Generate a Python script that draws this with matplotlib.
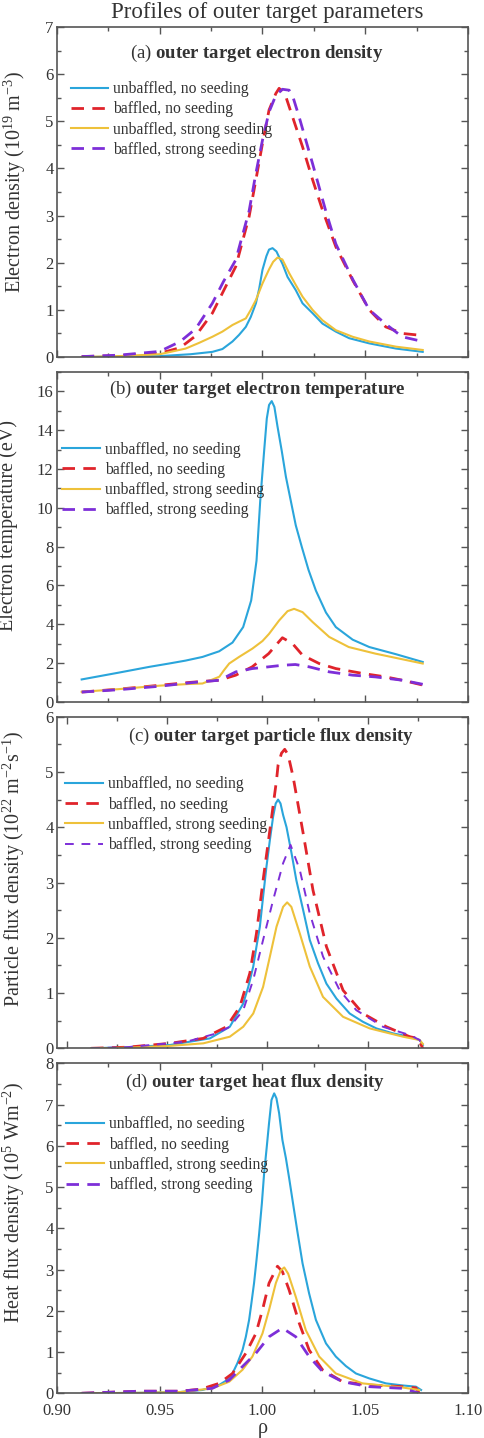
import numpy as np
import matplotlib
matplotlib.use("Agg")
import matplotlib.pyplot as plt
from matplotlib.ticker import MultipleLocator

plt.rcParams['font.family'] = ['Liberation Serif', 'DejaVu Serif']
plt.rcParams['mathtext.fontset'] = 'custom'
plt.rcParams['mathtext.rm'] = 'Liberation Serif'
plt.rcParams['mathtext.bf'] = 'Liberation Serif:bold'
plt.rcParams['mathtext.it'] = 'Liberation Serif:italic'

labels = ["unbaffled, no seeding", "baffled, no seeding",
          "unbaffled, strong seeding", "baffled, strong seeding"]

# ---- (a) electron density, 1e19 m^-3
a_blue_x = [0.912, 0.930, 0.950, 0.965, 0.9756, 0.9805, 0.9854, 0.9886, 0.9919, 0.9943, 0.9968, 0.9984,
            1.000, 1.0019, 1.0032, 1.0049, 1.0068, 1.0081, 1.0097, 1.0122, 1.0162, 1.0195, 1.0244, 1.0292,
            1.0357, 1.0422, 1.052, 1.065, 1.078]
a_blue_y = [0.0, 0.01, 0.02, 0.06, 0.11, 0.17, 0.33, 0.47, 0.64, 0.85, 1.14, 1.45,
            1.85, 2.14, 2.28, 2.31, 2.24, 2.12, 1.98, 1.70, 1.42, 1.14, 0.93, 0.71,
            0.54, 0.40, 0.29, 0.18, 0.11]
a_red_x = [0.912, 0.930, 0.950, 0.960, 0.9675, 0.9756, 0.981, 0.987, 0.9935, 0.9968, 1.000, 1.0032, 1.0065,
           1.0081, 1.0097, 1.0114, 1.0146, 1.0195, 1.0244, 1.0292, 1.0357, 1.0439, 1.052, 1.060, 1.0682,
           1.075]
a_red_y = [0.01, 0.03, 0.08, 0.2, 0.45, 0.93, 1.4, 1.92, 2.98, 3.76, 4.53, 5.24, 5.59,
           5.7, 5.63, 5.52, 5.1, 4.46, 3.76, 3.12, 2.34, 1.63, 1.0, 0.64, 0.5,
           0.47]
a_yel_x = [0.912, 0.930, 0.950, 0.9626, 0.9691, 0.9756, 0.9805, 0.9854, 0.9886, 0.9919, 0.9943, 0.9968,
           1.000, 1.0032, 1.0052, 1.0073, 1.0097, 1.013, 1.0162, 1.0195, 1.0244, 1.0292, 1.0357, 1.0439,
           1.052, 1.065, 1.078]
a_yel_y = [0.0, 0.02, 0.06, 0.18, 0.30, 0.43, 0.54, 0.68, 0.75, 0.82, 1.0, 1.21,
           1.56, 1.86, 2.02, 2.11, 2.07, 1.78, 1.53, 1.28, 1.0, 0.78, 0.57, 0.43,
           0.33, 0.22, 0.15]
a_pur_x = [0.912, 0.930, 0.950, 0.960, 0.9675, 0.9756, 0.981, 0.987, 0.9935, 0.9968, 1.000, 1.0032, 1.0065,
           1.0097, 1.013, 1.0146, 1.0178, 1.0211, 1.0244, 1.0276, 1.0308, 1.0357, 1.0439, 1.052, 1.060,
           1.068, 1.078]
a_pur_y = [0.01, 0.04, 0.12, 0.33, 0.6, 1.14, 1.6, 2.06, 3.1, 3.9, 4.6, 5.2, 5.55,
           5.68, 5.66, 5.55, 5.1, 4.6, 4.1, 3.6, 3.1, 2.4, 1.65, 1.0, 0.7,
           0.43, 0.33]

# ---- (b) electron temperature, eV
b_blue_x = [0.912, 0.930, 0.945, 0.9545, 0.9625, 0.9708, 0.9789, 0.9854, 0.9906, 0.9945, 0.9971, 0.9989,
            1.0008, 1.0021, 1.0032, 1.0045, 1.0058, 1.0073, 1.0094, 1.0114, 1.0138, 1.0162, 1.0192, 1.0224,
            1.026, 1.0309, 1.0357, 1.0439, 1.052, 1.065, 1.078]
b_blue_y = [1.15, 1.5, 1.8, 1.97, 2.12, 2.31, 2.6, 3.05, 3.85, 5.22, 7.27, 10.35,
            12.92, 14.6, 15.3, 15.5, 15.2, 14.2, 12.92, 11.6, 10.35, 9.1, 7.96, 6.8,
            5.73, 4.6, 3.85, 3.2, 2.82, 2.45, 2.05]
b_red_x = [0.912, 0.930, 0.950, 0.965, 0.979, 0.987, 0.995, 1.003, 1.0065, 1.0097, 1.0146, 1.0195,
           1.0276, 1.0357, 1.0487, 1.060, 1.068, 1.078]
b_red_y = [0.5, 0.65, 0.85, 1.0, 1.11, 1.37, 1.8, 2.48, 2.91, 3.3, 3.0, 2.4,
           1.97, 1.71, 1.46, 1.28, 1.11, 0.86]
b_yel_x = [0.912, 0.930, 0.950, 0.965, 0.9708, 0.979, 0.9813, 0.9838, 0.9886, 0.9951, 1.000, 1.0032,
           1.0081, 1.0122, 1.0154, 1.0195, 1.0244, 1.0325, 1.042, 1.055, 1.078]
b_yel_y = [0.51, 0.65, 0.83, 0.92, 0.94, 1.29, 1.63, 1.97, 2.31, 2.74, 3.13, 3.5,
           4.19, 4.67, 4.79, 4.62, 4.11, 3.34, 2.82, 2.48, 1.97]
b_pur_x = [0.912, 0.930, 0.950, 0.965, 0.979, 0.987, 0.995, 1.003, 1.0097, 1.016, 1.0227, 1.0325,
           1.0439, 1.055, 1.068, 1.078]
b_pur_y = [0.5, 0.62, 0.8, 0.98, 1.11, 1.54, 1.71, 1.8, 1.88, 1.92, 1.8, 1.54,
           1.37, 1.28, 1.11, 0.9]

# ---- (c) particle flux density, 1e22 m^-2 s^-1
c_blue_x = [0.912, 0.930, 0.9514, 0.9713, 0.9812, 0.9879, 0.9904, 0.9929, 0.9945, 0.9962, 0.9978, 0.9995,
            1.0012, 1.0028, 1.0041, 1.0053, 1.0065, 1.0078, 1.0095, 1.012, 1.0144, 1.0178, 1.0211, 1.0252,
            1.0294, 1.0344, 1.041, 1.0476, 1.0543, 1.0626, 1.0709, 1.0759, 1.0775]
c_blue_y = [0.0, 0.02, 0.06, 0.18, 0.39, 0.81, 1.11, 1.48, 1.84, 2.2, 2.74, 3.29,
            3.77, 4.19, 4.43, 4.5, 4.43, 4.22, 4.0, 3.53, 3.04, 2.5, 1.96, 1.54,
            1.17, 0.9, 0.63, 0.48, 0.36, 0.27, 0.21, 0.15, 0.06]
c_red_x = [0.912, 0.930, 0.9514, 0.968, 0.9796, 0.9862, 0.9912, 0.9945, 0.9978, 1.0012, 1.0045, 1.0053,
           1.007, 1.0086, 1.0103, 1.0128, 1.0178, 1.0227, 1.0294, 1.0377, 1.0476, 1.0593, 1.0709, 1.075,
           1.0775]
c_red_y = [0.0, 0.02, 0.09, 0.18, 0.39, 0.75, 1.36, 2.08, 3.04, 3.95, 4.85, 5.13,
           5.34, 5.41, 5.31, 4.91, 3.89, 2.86, 1.84, 1.05, 0.63, 0.39, 0.21, 0.18,
           0.0]
c_yel_x = [0.912, 0.930, 0.950, 0.968, 0.9812, 0.9879, 0.9929, 0.9978, 1.0012, 1.0045, 1.0078, 1.0098,
           1.0119, 1.0161, 1.0211, 1.0277, 1.0377, 1.051, 1.0676, 1.0759, 1.0775]
c_yel_y = [0.0, 0.01, 0.04, 0.09, 0.21, 0.39, 0.63, 1.11, 1.66, 2.2, 2.56, 2.64,
           2.56, 2.08, 1.48, 0.93, 0.57, 0.36, 0.21, 0.15, 0.08]
c_pur_x = [0.912, 0.930, 0.9597, 0.9746, 0.9812, 0.9879, 0.9929, 0.9978, 1.0028, 1.0078, 1.0115, 1.0161,
           1.0211, 1.0277, 1.036, 1.0443, 1.0576, 1.0709, 1.0759, 1.0775]
c_pur_y = [0.0, 0.02, 0.12, 0.27, 0.39, 0.69, 1.24, 1.96, 2.68, 3.35, 3.68, 3.23,
           2.44, 1.66, 1.05, 0.69, 0.39, 0.24, 0.15, 0.0]

# ---- (d) heat flux density, 1e5 W m^-2
d_blue_x = [0.912, 0.940, 0.960, 0.9708, 0.9789, 0.9821, 0.9854, 0.9878, 0.9903, 0.9919, 0.9935, 0.9946,
            0.9959, 0.9971, 0.9984, 0.9997, 1.0008, 1.0021, 1.0032, 1.0044, 1.0057, 1.0068, 1.0081, 1.0097,
            1.0114, 1.013, 1.0146, 1.017, 1.0195, 1.0227, 1.026, 1.0309, 1.0357, 1.0406, 1.0455, 1.052,
            1.0601, 1.0682, 1.0747, 1.0772]
d_blue_y = [0.0, 0.01, 0.03, 0.08, 0.2, 0.3, 0.48, 0.73, 1.05, 1.37, 1.78, 2.18,
            2.67, 3.23, 3.88, 4.6, 5.33, 5.98, 6.55, 7.11, 7.27, 7.15, 6.79, 6.14,
            5.7, 5.21, 4.69, 3.92, 3.15, 2.42, 1.78, 1.21, 0.89, 0.66, 0.48, 0.36,
            0.24, 0.19, 0.16, 0.08]
d_red_x = [0.912, 0.940, 0.960, 0.970, 0.9789, 0.9854, 0.9919, 0.9968, 1.000, 1.0032, 1.0073, 1.0097,
           1.013, 1.0179, 1.0227, 1.0292, 1.039, 1.052, 1.0682, 1.0747, 1.0763]
d_red_y = [0.0, 0.05, 0.05, 0.1, 0.24, 0.48, 0.97, 1.45, 2.02, 2.67, 3.08, 2.95,
           2.5, 1.7, 1.05, 0.57, 0.28, 0.2, 0.16, 0.13, 0.0]
d_yel_x = [0.912, 0.940, 0.960, 0.9756, 0.9838, 0.9903, 0.9951, 1.000, 1.0032, 1.0065, 1.0089, 1.0106,
           1.0125, 1.0162, 1.0211, 1.0276, 1.0357, 1.0487, 1.0682, 1.0763]
d_yel_y = [0.0, 0.01, 0.03, 0.12, 0.28, 0.57, 0.89, 1.45, 2.02, 2.67, 2.98, 3.05,
           2.9, 2.34, 1.53, 0.89, 0.48, 0.24, 0.14, 0.08]
d_pur_x = [0.912, 0.940, 0.960, 0.9756, 0.9838, 0.9903, 0.9968, 1.0032, 1.0097, 1.0162, 1.0227, 1.0292,
           1.039, 1.052, 1.0682, 1.0763]
d_pur_y = [0.0, 0.05, 0.05, 0.12, 0.32, 0.65, 0.97, 1.37, 1.58, 1.37, 0.89, 0.53,
           0.28, 0.16, 0.12, 0.0]

blue = '#2aa5db'
red = '#e0242b'
yel = '#eec13a'
pur = '#7d2fd8'
axcol = '#555555'
txtcol = '#333333'

fig = plt.figure(figsize=(4.84, 14.38), dpi=100)

panels = [
    dict(pos=[0.1178, 0.7517, 0.849, 0.2295], xlim=(0.90, 1.10), ylim=(0, 7), maj=1, mnr=0.5,
         ylabel=r"Electron density (10$^{19}$ m$^{-3}$)", ylab=(-0.071, 0.53),
         title=r"(a) $\mathbf{outer\ target\ electron\ density}$", tpos=(0.485, 0.921),
         leg=(0.033, 0.836), data=[(a_blue_x, a_blue_y), (a_red_x, a_red_y), (a_yel_x, a_yel_y), (a_pur_x, a_pur_y)]),
    dict(pos=[0.1178, 0.512, 0.849, 0.2293], xlim=(0.90, 1.10), ylim=(0, 17), maj=2, mnr=1,
         ylabel="Electron temperature (eV)", ylab=(-0.095, 0.535),
         title=r"(b) $\mathbf{outer\ target\ electron\ temperature}$", tpos=(0.487, 0.948),
         leg=(0.013, 0.789), data=[(b_blue_x, b_blue_y), (b_red_x, b_red_y), (b_yel_x, b_yel_y), (b_pur_x, b_pur_y)]),
    dict(pos=[0.1178, 0.271, 0.849, 0.2306], xlim=(0.895, 1.10), ylim=(0, 6), maj=1, mnr=0.5,
         ylabel=r"Particle flux density (10$^{22}$ m$^{-2}$s$^{-1}$)", ylab=(-0.073, 0.54),
         title=r"(c) $\mathbf{outer\ target\ particle\ flux\ density}$", tpos=(0.52, 0.939),
         leg=(0.02, 0.82), data=[(c_blue_x, c_blue_y), (c_red_x, c_red_y), (c_yel_x, c_yel_y), (c_pur_x, c_pur_y)]),
    dict(pos=[0.1178, 0.0311, 0.849, 0.2295], xlim=(0.90, 1.10), ylim=(0, 8), maj=1, mnr=0.5,
         ylabel=r"Heat flux density (10$^{5}$ Wm$^{-2}$)", ylab=(-0.073, 0.58),
         title=r"(d) $\mathbf{outer\ target\ heat\ flux\ density}$", tpos=(0.482, 0.943),
         leg=(0.023, 0.839), data=[(d_blue_x, d_blue_y), (d_red_x, d_red_y), (d_yel_x, d_yel_y), (d_pur_x, d_pur_y)]),
]

for i, p in enumerate(panels):
    ax = fig.add_axes(p['pos'])
    (bx, by), (rx, ry), (yx, yy), (px, py) = p['data']
    ax.plot(bx, by, color=blue, lw=1.5, label=labels[0])
    ax.plot(rx, ry, color=red, lw=2.0, ls=(0, (4.5, 3.0)), label=labels[1])
    ax.plot(yx, yy, color=yel, lw=1.5, label=labels[2])
    if i == 2:
        ax.plot(px, py, color=pur, lw=1.4, ls=(0, (4.5, 4.0)), label=labels[3])
    else:
        ax.plot(px, py, color=pur, lw=2.0, ls=(0, (4.5, 3.0)), label=labels[3])

    ax.set_xlim(*p['xlim'])
    ax.set_ylim(*p['ylim'])
    ax.xaxis.set_major_locator(MultipleLocator(0.05))
    ax.xaxis.set_minor_locator(MultipleLocator(0.025))
    ax.yaxis.set_major_locator(MultipleLocator(p['maj']))
    ax.yaxis.set_minor_locator(MultipleLocator(p['mnr']))
    ax.tick_params(which='both', direction='in', top=True, right=True, colors=axcol,
                   labelcolor=txtcol, labelsize=12, width=1.0, pad=2.5)
    ax.tick_params(axis='x', which='both', pad=7)
    ax.tick_params(which='major', length=5)
    ax.tick_params(which='minor', length=3)
    for s in ax.spines.values():
        s.set_color(axcol)
        s.set_linewidth(1.2)
    if i < 3:
        ax.set_xticklabels([])
    else:
        ax.set_xticklabels(["%.2f" % v for v in ax.get_xticks()])

    ax.set_ylabel(p['ylabel'], fontsize=14.5, color=txtcol)
    ax.yaxis.set_label_coords(*p['ylab'])
    ax.text(p['tpos'][0], p['tpos'][1], p['title'], transform=ax.transAxes,
            ha='center', va='center', fontsize=13.5, color=txtcol)
    leg = ax.legend(loc='upper left', bbox_to_anchor=p['leg'], frameon=False, fontsize=11.3,
                    handlelength=2.4, handletextpad=0.3, labelspacing=0.27,
                    borderpad=0, borderaxespad=0)
    for t in leg.get_texts():
        t.set_color(txtcol)

fig.text(0.553, 0.991, "Profiles of outer target parameters", ha='center', va='center',
         fontsize=16.5, color=txtcol)
fig.text(263 / 484, 0.0068, "ρ", ha='center', va='center', fontsize=14.5, color=txtcol)

fig.savefig("out.png", dpi=100)
